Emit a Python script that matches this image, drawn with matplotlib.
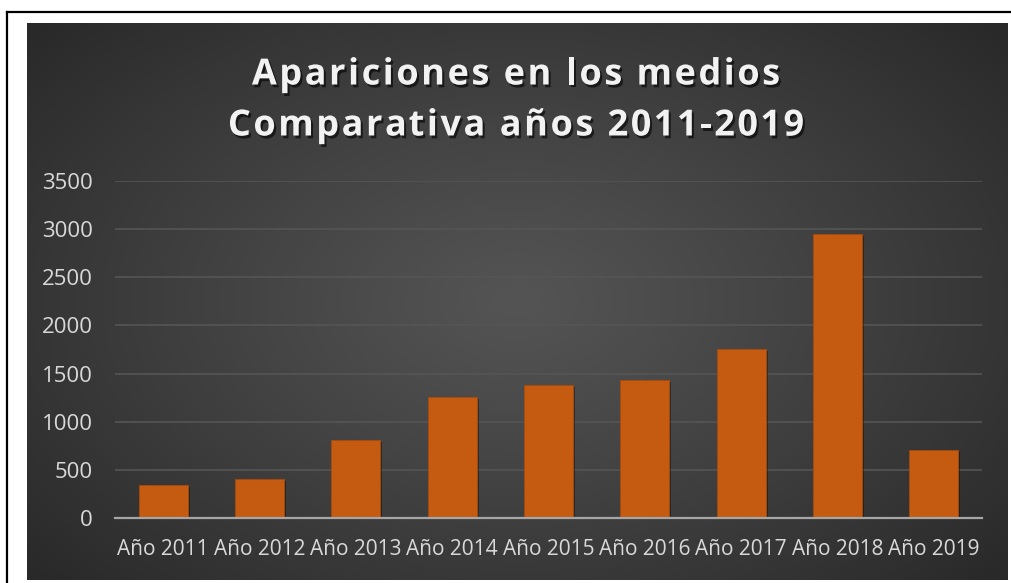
import matplotlib.pyplot as plt
import matplotlib.patheffects as pe
from matplotlib.lines import Line2D
import numpy as np

plt.rcParams['font.family'] = ['Open Sans', 'DejaVu Sans']

years = ["Año 2011", "Año 2012", "Año 2013", "Año 2014", "Año 2015",
         "Año 2016", "Año 2017", "Año 2018", "Año 2019"]
apariciones = [345, 408, 810, 1260, 1381, 1433, 1759, 2953, 709]
yticks = [0, 500, 1000, 1500, 2000, 2500, 3000, 3500]
title_lines = ["Apariciones en los medios", "Comparativa años 2011-2019"]

W, H = 1012, 583
fig = plt.figure(figsize=(W / 100, H / 100), dpi=100)
fig.patch.set_facecolor("white")

# outer black frame (top and left visible)
fig.lines.append(Line2D([7 / W, 1.01], [1 - 12 / H, 1 - 12 / H], transform=fig.transFigure,
                        color="black", linewidth=1.6))
fig.lines.append(Line2D([7 / W, 7 / W], [-0.01, 1 - 12 / H], transform=fig.transFigure,
                        color="black", linewidth=1.6))

# dark radial gradient background
bg = fig.add_axes([27 / W, 3 / H, (1008 - 27) / W, (560 - 3) / H])
bg.set_axis_off()
gx, gy = np.meshgrid(np.linspace(-1, 1, 400), np.linspace(-1, 1, 240))
r = np.sqrt(gx ** 2 + (gy * 0.9) ** 2) / np.sqrt(2)
r = np.clip(r, 0, 1)
c = 0.33 - 0.18 * r ** 1.1
img = np.dstack([c, c, c])
bg.imshow(img, aspect="auto", extent=[0, 1, 0, 1], interpolation="bilinear")

ax = fig.add_axes([115 / W, (H - 518) / H, (982 - 115) / W, (518 - 181) / H])
ax.patch.set_alpha(0)
x = np.arange(len(years))
bars = ax.bar(x, apariciones, width=0.51, color="#C55A11", edgecolor="#A84A0C",
              linewidth=0.6, zorder=3)
for b in bars:
    b.set_path_effects([pe.SimplePatchShadow(offset=(1.5, -1.5), shadow_rgbFace="black", alpha=0.35),
                        pe.Normal()])

ax.set_xlim(-0.5, len(years) - 0.5)
ax.set_ylim(0, 3500)
ax.set_yticks(yticks)
ax.set_xticks(x)
ax.set_xticklabels(years)
ax.yaxis.grid(True, color="#555555", linewidth=1.2, zorder=0)
ax.set_axisbelow(True)
for s in ["top", "right", "left"]:
    ax.spines[s].set_visible(False)
ax.spines["bottom"].set_color("#A6A6A6")
ax.spines["bottom"].set_linewidth(1.6)
ax.spines["bottom"].set_zorder(4)
ax.tick_params(axis="both", length=0, colors="#D9D9D9")
ax.tick_params(axis="x", labelsize=15, pad=15)
ax.tick_params(axis="y", labelsize=16, pad=16)

# title with letter spacing, placed char by char
shadow = [pe.withSimplePatchShadow(offset=(1.5, -2), shadow_rgbFace="black", alpha=0.6)]
renderer = fig.canvas.get_renderer()
tkw = dict(fontsize=26, fontweight="bold", color="#F2F2F2")
spacing = 2.5  # px between characters
for text, yc in zip(title_lines, [71, 122]):
    widths = []
    for i in range(len(text) + 1):
        t = fig.text(0, 0, text[:i] if i else "", **tkw)
        widths.append(t.get_window_extent(renderer).width if i else 0.0)
        t.remove()
    total = widths[-1] + spacing * (len(text) - 1)
    x0 = 516 - total / 2
    for i, ch in enumerate(text):
        if ch == " ":
            continue
        fig.text((x0 + widths[i] + spacing * i) / W, 1 - yc / H, ch, ha="left",
                 va="center_baseline", path_effects=shadow, **tkw)

fig.savefig("out.png", dpi=100)
